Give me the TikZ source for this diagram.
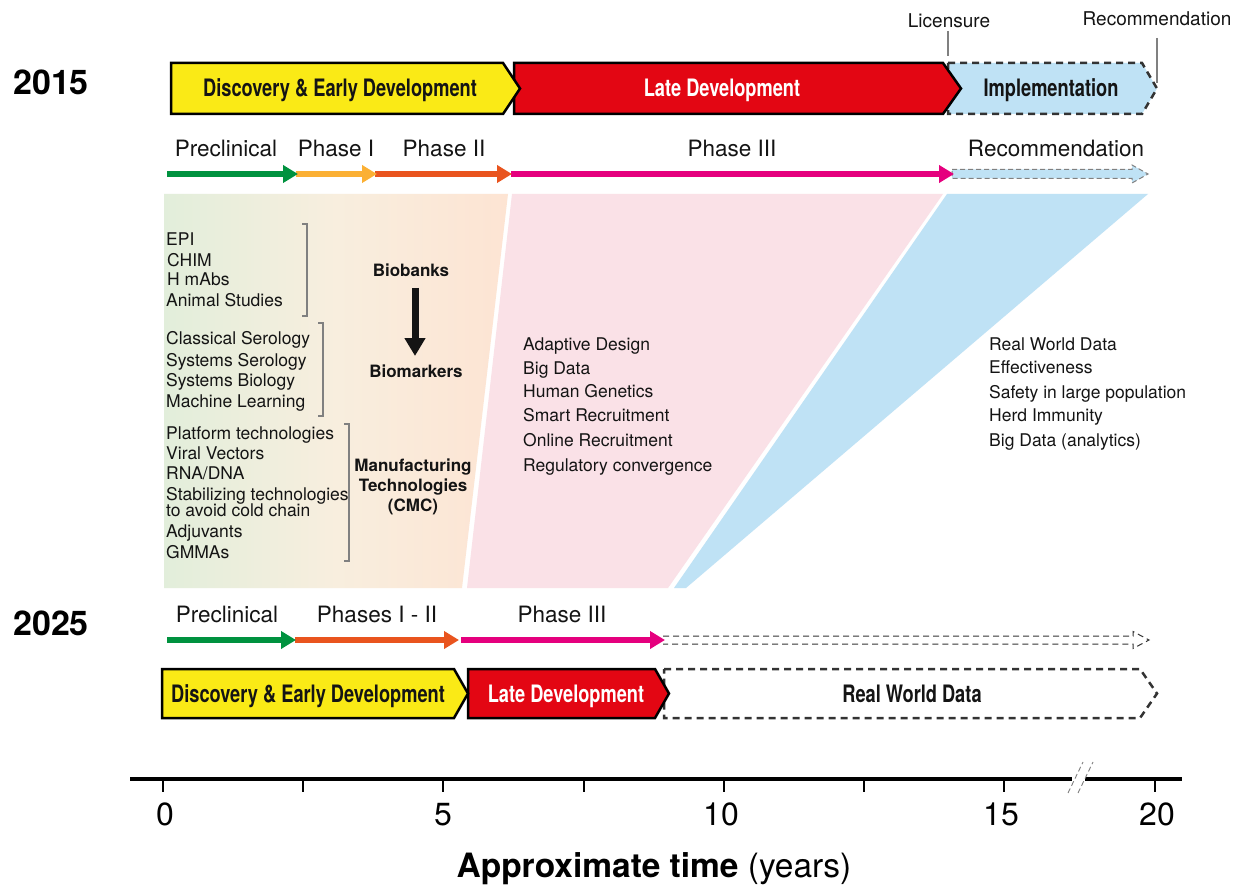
\documentclass[tikz,border=0pt]{standalone}
\usepackage{fontspec}
\setmainfont{TeX Gyre Heros}
\newfontfamily\cnd[FakeStretch=0.76]{TeX Gyre Heros}
\usetikzlibrary{arrows.meta}
\definecolor{cyel}{RGB}{250,234,22}
\definecolor{cred}{RGB}{227,6,19}
\definecolor{cblue}{RGB}{191,226,245}
\definecolor{cgreen}{RGB}{0,146,63}
\definecolor{corange}{RGB}{251,176,52}
\definecolor{cdorange}{RGB}{233,84,30}
\definecolor{cmag}{RGB}{229,0,126}
\definecolor{cpink}{RGB}{250,225,231}
\definecolor{cgl}{RGB}{226,238,219}
\definecolor{cgm}{RGB}{248,238,222}
\definecolor{cgr}{RGB}{253,228,211}
\definecolor{ctxt}{RGB}{20,20,20}
\definecolor{cdash}{RGB}{51,51,51}
\tikzset{
  boxline/.style={line width=2.5pt, draw=black, line join=miter},
  dashbox/.style={line width=2.5pt, draw=cdash, dash pattern=on 7pt off 5pt},
  boxtext/.style={font=\cnd\bfseries\fontsize{24}{28}\selectfont, anchor=base, inner sep=0pt, text=ctxt},
  phaselbl/.style={font=\fontsize{22.5}{27}\selectfont, anchor=base, inner sep=0pt, text=ctxt},
  item/.style={font=\fontsize{17.5}{20}\selectfont, anchor=base west, inner sep=0pt, text=ctxt},
  bitem/.style={font=\bfseries\fontsize{17}{20}\selectfont, anchor=base, inner sep=0pt, text=ctxt, align=center},
  yearlbl/.style={font=\bfseries\fontsize{34}{40}\selectfont, anchor=base, inner sep=0pt, text=black},
  smalllbl/.style={font=\fontsize{19}{22}\selectfont, anchor=base, inner sep=0pt, text=ctxt},
  phasearrow/.style={line width=6.5pt, -{Triangle[length=15pt,width=17pt]}},
  bracket/.style={draw=gray, line width=1.2pt},
  ticknum/.style={font=\fontsize{32}{36}\selectfont, anchor=base, inner sep=0pt, text=black},
}
\begin{document}
\begin{tikzpicture}[x=1pt,y=-1pt]
\useasboundingbox[fill=white] (0,0) rectangle (1249,890);

% ---------- background regions ----------
\shade[left color=cgl, right color=cgr, middle color=cgm] (164,194) -- (508,194) -- (462,588) -- (164,588) -- cycle;
\fill[cpink] (512,194) -- (943,194) -- (668,588) -- (467,588) -- cycle;
\fill[cblue] (947,194) -- (1148,194) -- (686,588) -- (674,588) -- cycle;

% ---------- year labels ----------
\node[yearlbl] (y2015) at (51,95) {2015};
\node[yearlbl] (y2025) at (51,635) {2025};

% ---------- top 2015 chevrons ----------
\filldraw[fill=cblue, dashbox] (948,63) -- (1142,63) -- (1157,88.5) -- (1142,114) -- (948,114) -- cycle;
\filldraw[fill=cred, boxline] (514,63) -- (943,63) -- (961,88.5) -- (943,114) -- (514,114) -- cycle;
\filldraw[fill=cyel, boxline] (171,63) -- (503,63) -- (520,88.5) -- (503,114) -- (171,114) -- cycle;
\node[boxtext] (disc1) at (340,97) {Discovery \& Early Development};
\node[boxtext, text=white] (late1) at (722,97) {Late Development};
\node[boxtext] (impl) at (1051,97) {Implementation};

% licensure / recommendation markers
\node[smalllbl] (lic) at (949,28) {Licensure};
\node[smalllbl] (rec) at (1157,26) {Recommendation};
\coordinate (licA) at (948,31);
\coordinate (licB) at (948,56);
\coordinate (recA) at (1157,38);
\coordinate (recB) at (1157,83);
\draw[gray, line width=1.2pt] (licA) -- (licB);
\draw[gray, line width=1.2pt] (recA) -- (recB);

% ---------- 2015 phase row ----------
\node[phaselbl] (pre1) at (226,157) {Preclinical};
\node[phaselbl] (ph1) at (336,157) {Phase I};
\node[phaselbl] (ph2) at (444,157) {Phase II};
\node[phaselbl] (ph3) at (732,157) {Phase III};
\node[phaselbl] (rec1) at (1056,157) {Recommendation};
\coordinate (a0) at (167,174);
\coordinate (a1) at (298,174);
\coordinate (a1s) at (296,174);
\coordinate (a2) at (377,174);
\coordinate (a2s) at (375,174);
\coordinate (a3) at (512,174);
\coordinate (a3s) at (511,174);
\coordinate (a4) at (954,174);
\filldraw[fill=cblue, draw=gray, line width=1pt, dash pattern=on 5pt off 3pt]
  (952,169.5) -- (1132,169.5) -- (1132,165) -- (1148,174) -- (1132,183) -- (1132,178.5) -- (952,178.5) -- cycle;
\draw[phasearrow, cmag] (a3s) -- (a4);
\draw[phasearrow, cdorange] (a2s) -- (a3);
\draw[phasearrow, corange] (a1s) -- (a2);
\draw[phasearrow, cgreen] (a0) -- (a1);

% ---------- left list ----------
\node[item] (i1) at (166,246) {EPI};
\node[item] (i2) at (167,267) {CHIM};
\node[item] (i3) at (167,286) {H mAbs};
\node[item] (i4) at (166,307) {Animal Studies};
\node[item] (i5) at (166,344) {Classical Serology};
\node[item] (i6) at (166,366) {Systems Serology};
\node[item] (i7) at (166,386) {Systems Biology};
\node[item] (i8) at (166,407) {Machine Learning};
\node[item] (i9) at (166,439) {Platform technologies};
\node[item] (i10) at (166,459) {Viral Vectors};
\node[item] (i11) at (166,479) {RNA/DNA};
\node[item] (i12) at (166,500) {Stabilizing technologies};
\node[item] (i13) at (166,516) {to avoid cold chain};
\node[item] (i14) at (166,537) {Adjuvants};
\node[item] (i15) at (166,558) {GMMAs};
\draw[bracket] (302,224) -- (307,224) -- (307,316) -- (302,316);
\draw[bracket] (318,323) -- (323,323) -- (323,416) -- (318,416);
\draw[bracket] (344,424) -- (349,424) -- (349,561) -- (344,561);

\node[bitem] (bio) at (411,276.5) {Biobanks};
\node[bitem] (bmk) at (416,377.5) {Biomarkers};
\node[bitem] (man1) at (413,471.5) {Manufacturing};
\node[bitem] (man2) at (413,491.5) {Technologies};
\node[bitem] (man3) at (413,511.5) {(CMC)};
\coordinate (bbA) at (415,288);
\coordinate (bbB) at (415,356);
\draw[line width=7pt, ctxt, -{Triangle[length=18pt,width=20pt]}] (bbA) -- (bbB);

% ---------- pink list ----------
\node[item] (p1) at (523,350) {Adaptive Design};
\node[item] (p2) at (523,374) {Big Data};
\node[item] (p3) at (523,397) {Human Genetics};
\node[item] (p4) at (523,421) {Smart Recruitment};
\node[item] (p5) at (523,446) {Online Recruitment};
\node[item] (p6) at (523,471) {Regulatory convergence};

% ---------- blue list ----------
\node[item] (b1) at (989,350) {Real World Data};
\node[item] (b2) at (989,373) {Effectiveness};
\node[item] (b3) at (989,398) {Safety in large population};
\node[item] (b4) at (989,421) {Herd Immunity};
\node[item] (b5) at (989,446) {Big Data (analytics)};

% ---------- 2025 phase row ----------
\node[phaselbl] (pre2) at (227,622) {Preclinical};
\node[phaselbl] (ph12) at (377,622) {Phases I - II};
\node[phaselbl] (ph32) at (562,622) {Phase III};
\coordinate (c0) at (167,640);
\coordinate (c1) at (296,640);
\coordinate (c1s) at (295,640);
\coordinate (c2) at (459,640);
\coordinate (c2s) at (461,640);
\coordinate (c3) at (665,640);
\draw[draw=cdash, line width=1pt, dash pattern=on 6pt off 4pt]
  (663,636) -- (1133,636) -- (1133,631.5) -- (1149,640) -- (1133,648.5) -- (1133,644) -- (663,644);
\draw[phasearrow, cmag] (c2s) -- (c3);
\draw[phasearrow, cdorange] (c1s) -- (c2);
\draw[phasearrow, cgreen] (c0) -- (c1);

% ---------- 2025 chevrons ----------
\filldraw[fill=white, dashbox] (664,669) -- (1140,669) -- (1157,693.5) -- (1140,718) -- (664,718) -- cycle;
\filldraw[fill=cred, boxline] (468,669) -- (655,669) -- (669,693.5) -- (655,718) -- (468,718) -- cycle;
\filldraw[fill=cyel, boxline] (162,669) -- (454,669) -- (468,693.5) -- (454,718) -- (162,718) -- cycle;
\node[boxtext] (disc2) at (308,702) {Discovery \& Early Development};
\node[boxtext, text=white] (late2) at (566,702) {Late Development};
\node[boxtext] (rwd) at (912,702) {Real World Data};

% ---------- time axis ----------
\coordinate (ax0) at (130,779);
\coordinate (axb1) at (1072,779);
\coordinate (axb2) at (1085,779);
\coordinate (ax1) at (1182,779);
\draw[line width=3.2pt, black] (ax0) -- (axb1);
\draw[line width=3.2pt, black] (axb2) -- (ax1);
\draw[gray, line width=0.9pt, dash pattern=on 5pt off 3pt] (1068,793) -- (1083,762);
\draw[gray, line width=0.9pt, dash pattern=on 5pt off 3pt] (1078,793) -- (1093,762);
\foreach \x in {163,303,443,584,724,864,1004,1155} {
  \draw[line width=2.6pt, black] (\x,779) -- (\x,792);
}
\node[ticknum] (n0) at (165,825) {0};
\node[ticknum] (n5) at (443,825) {5};
\node[ticknum] (n10) at (721,825) {10};
\node[ticknum] (n15) at (1001,825) {15};
\node[ticknum] (n20) at (1157,825) {20};
\node[anchor=base, inner sep=0pt, text=black] (axlbl) at (654,877)
  {\fontsize{33.5}{38}\selectfont{\bfseries Approximate time} (years)};
\end{tikzpicture}
\end{document}
